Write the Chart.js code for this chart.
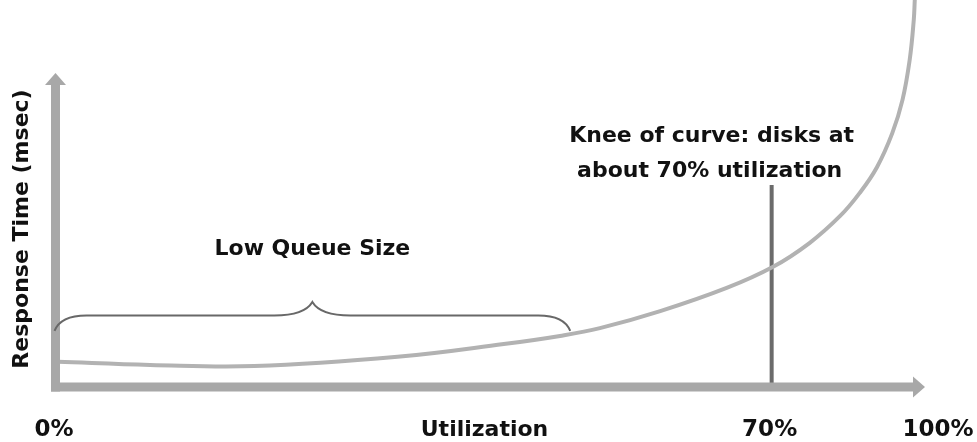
<!DOCTYPE html>
<html>
<head>
<meta charset="utf-8">
<title>Response time vs utilization</title>
<script src="https://cdn.jsdelivr.net/npm/chart.js@4.4.1/dist/chart.umd.min.js"></script>
<style>
  html, body { margin: 0; padding: 0; background: #fff; }
  #wrap { width: 977px; height: 442px; position: relative; }
</style>
</head>
<body>
<div id="wrap"><canvas id="chart"></canvas></div>
<script>
// utilization (%) vs relative response time
const utilization = [0.2, 9.2, 19.4, 33.4, 43.8, 49.3, 53.2, 59.1, 65.6, 70.1, 73.7, 76.7, 78.6, 80.3, 81.8, 82.8, 83.5, 83.9, 84.0];
const responseTime = [6.5, 5.7, 5.4, 7.8, 11.1, 13.2, 15.2, 19.6, 25.6, 31.0, 37.2, 44.2, 50.1, 56.8, 65.6, 74.2, 84.5, 94.8, 100];

// knee marker
const kneeUtilization = 70;
const kneeTop = 52.2;

// "low queue size" range on the x axis, and level of the brace tips
const lowQueueRange = [0, 50.3];
const braceLevel = 14.5;

const xTickLabels = ['0%', '70%', '100%'];
const xTickValues = [0, 70, null]; // null -> end of axis
const xTitle = 'Utilization';
const yTitle = 'Response Time (msec)';
const lowQueueLabel = 'Low Queue Size';
const kneeLabel = ['Knee of curve: disks at', 'about 70% utilization'];

const FONT = 'bold 22px "DejaVu Sans", Verdana, sans-serif';
const TICK_FONT = 'bold 23px "DejaVu Sans", Verdana, sans-serif';
const AXIS_COLOR = '#a8a8a8';

const curvePoints = utilization.map((u, i) => ({ x: u, y: responseTime[i] }));

const diagramPlugin = {
  id: 'diagram',
  afterDatasetsDraw(chart) {
    const { ctx, chartArea, scales } = chart;
    const x = scales.x, y = scales.y;
    const x0 = x.getPixelForValue(0);
    const y0 = y.getPixelForValue(0);

    ctx.save();
    // axes with arrow heads
    ctx.fillStyle = AXIS_COLOR;
    ctx.fillRect(x0 - 5, 84, 9, y0 + 4.5 - 84);
    ctx.beginPath();
    ctx.moveTo(x0 - 11, 85);
    ctx.lineTo(x0 - 0.5, 73);
    ctx.lineTo(x0 + 10, 85);
    ctx.closePath();
    ctx.fill();

    ctx.fillRect(x0 - 5, y0 - 4.5, chartArea.right - 11 - (x0 - 5), 9);
    ctx.beginPath();
    ctx.moveTo(chartArea.right - 12, y0 - 10.5);
    ctx.lineTo(chartArea.right, y0);
    ctx.lineTo(chartArea.right - 12, y0 + 10.5);
    ctx.closePath();
    ctx.fill();

    // brace over the low queue region
    const bl = x.getPixelForValue(lowQueueRange[0]) - 1.5;
    const br = x.getPixelForValue(lowQueueRange[1]);
    const bm = (bl + br) / 2;
    const tip = y.getPixelForValue(braceLevel);
    const flat = tip - 15.5;
    const peak = tip - 29;
    ctx.strokeStyle = '#686868';
    ctx.lineWidth = 2;
    ctx.beginPath();
    ctx.moveTo(bl, tip);
    ctx.quadraticCurveTo(bl + 6, flat, bl + 32, flat);
    ctx.lineTo(bm - 38, flat);
    ctx.quadraticCurveTo(bm - 8, flat, bm, peak);
    ctx.quadraticCurveTo(bm + 8, flat, bm + 38, flat);
    ctx.lineTo(br - 32, flat);
    ctx.quadraticCurveTo(br - 6, flat, br, tip);
    ctx.stroke();

    // texts
    ctx.fillStyle = '#111';
    ctx.textAlign = 'center';
    ctx.textBaseline = 'alphabetic';
    ctx.font = TICK_FONT;
    xTickLabels.forEach((label, i) => {
      const v = xTickValues[i];
      const px = v === null ? chartArea.right + 13 : x.getPixelForValue(v) - 2;
      ctx.fillText(label, px, 436);
    });
    ctx.font = FONT;
    ctx.fillText(xTitle, (chartArea.left + chartArea.right) / 2 - 6, 436);
    ctx.fillText(lowQueueLabel, bm, 255);
    const kx = x.getPixelForValue(kneeUtilization) - 60;
    ctx.fillText(kneeLabel[0], kx, 142);
    ctx.fillText(kneeLabel[1], kx - 2, 177);

    ctx.translate(28, 229);
    ctx.rotate(-Math.PI / 2);
    ctx.fillText(yTitle, 0, 0);
    ctx.restore();
  }
};

new Chart(document.getElementById('chart'), {
  type: 'line',
  data: {
    datasets: [
      {
        label: 'Response time',
        data: curvePoints,
        borderColor: '#b2b2b2',
        borderWidth: 4,
        pointRadius: 0,
        tension: 0.4,
        clip: false,
      },
      {
        label: 'Knee',
        data: [{ x: kneeUtilization, y: 0 }, { x: kneeUtilization, y: kneeTop }],
        borderColor: '#6b6b6b',
        borderWidth: 4,
        pointRadius: 0,
        clip: false,
      },
    ],
  },
  options: {
    responsive: true,
    maintainAspectRatio: false,
    animation: false,
    layout: { padding: { left: 56, right: 52, top: 0, bottom: 55 } },
    plugins: { legend: { display: false }, tooltip: { enabled: false } },
    scales: {
      x: { type: 'linear', min: 0, max: 85, display: false },
      y: { type: 'linear', min: 0, max: 100, display: false },
    },
  },
  plugins: [diagramPlugin],
});
</script>
</body>
</html>
